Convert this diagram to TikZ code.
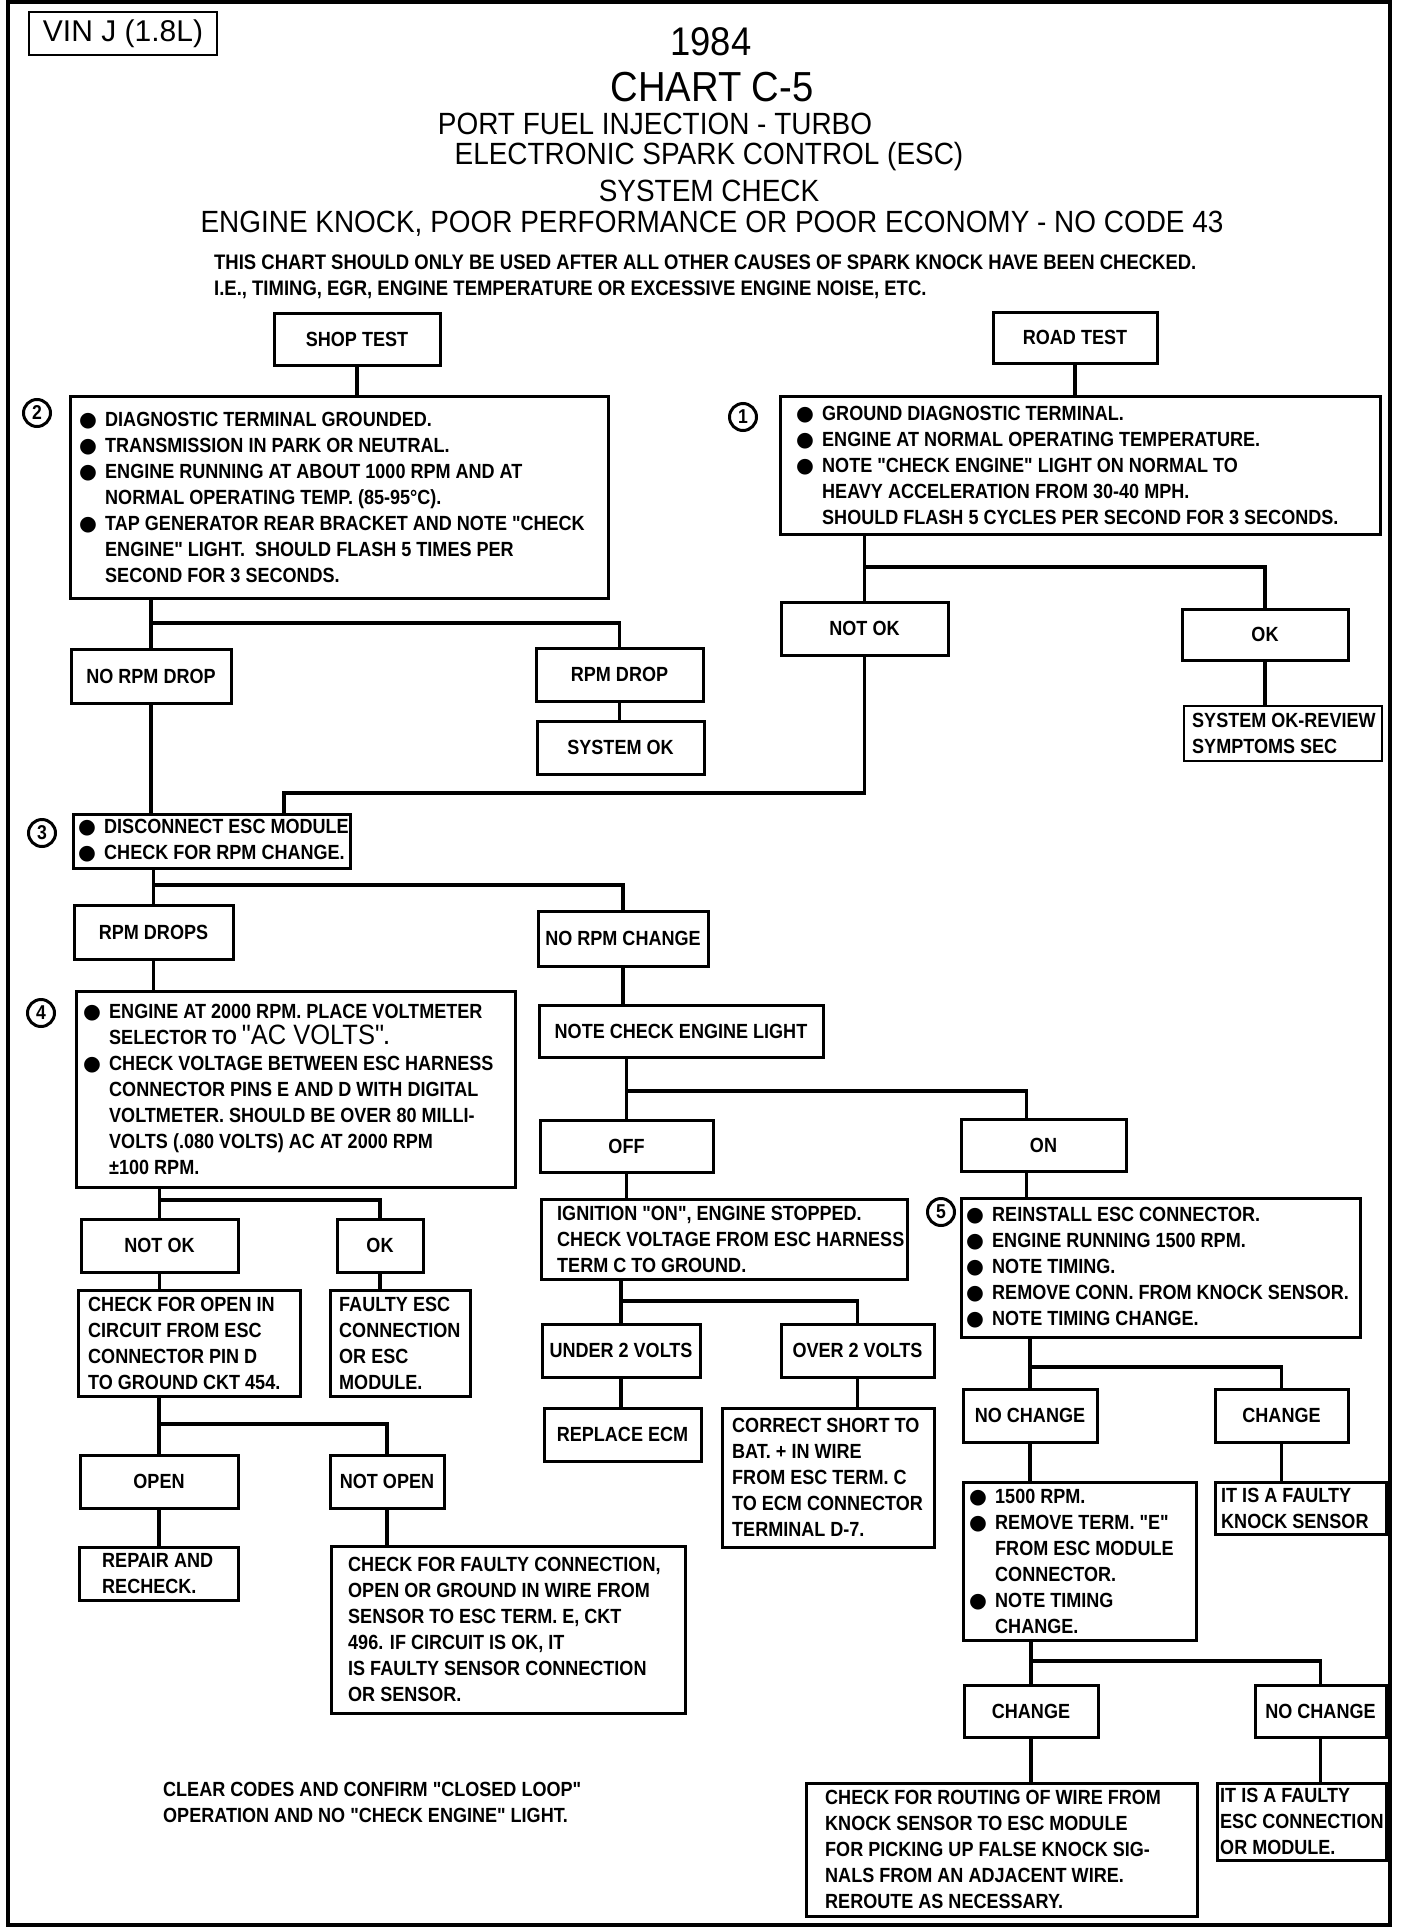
\documentclass[tikz,border=0pt]{standalone}
\usepackage{fontspec}
\setmainfont{Liberation Sans}
\newfontfamily\titlefont{Liberation Sans}[FakeStretch=0.91]
\newfontfamily\boxfont{Liberation Sans}[FakeStretch=0.88]
\newfontfamily\symfont{DejaVu Sans}
\newcommand{\boxsize}{\fontsize{20.5}{26}\selectfont}
\newcommand{\bl}{\makebox[26pt][l]{\symfont ●}}
\newcommand{\ind}{\hspace*{26pt}}
\begin{document}
\begin{tikzpicture}[x=1pt, y=-1pt,
    blk/.style={draw, line width=3pt, outer sep=0pt, inner sep=0pt, anchor=north west, font=\boxfont\bfseries\boxsize},
    txt/.style={anchor=west, align=left, inner sep=0pt, font=\boxfont\bfseries\boxsize},
    num/.style={circle, draw, line width=3pt, minimum size=27pt, inner sep=0pt, font=\boxfont\bfseries\fontsize{20}{20}\selectfont},
    head/.style={inner sep=0pt, font=\titlefont\fontsize{30.7}{34}\selectfont},
    wire/.style={line width=3.2pt}]
    \useasboundingbox (0,0) rectangle (1408,1930);
    \draw[line width=4.5pt] (8,2) rectangle (1390,1925);
    \node[draw, line width=2pt, minimum width=188pt, minimum height=43pt, anchor=north west, font=\fontsize{30}{30}\selectfont] (vin) at (28,11) {VIN J (1.8L)};
    \node[head, font=\titlefont\fontsize{40}{40}\selectfont] (year) at (711,42) {1984};
    \node[head, font=\titlefont\fontsize{42}{42}\selectfont] (chart) at (712,87) {CHART C-5};
    \node[head] (title1) at (655,124) {PORT FUEL INJECTION - TURBO};
    \node[head] (title2) at (709,157) {ELECTRONIC SPARK CONTROL (ESC)};
    \node[head] (title3) at (709,191) {SYSTEM CHECK};
    \node[head] (title4) at (712,224) {ENGINE KNOCK, POOR PERFORMANCE OR POOR ECONOMY - NO CODE 43};
    \node[txt, font=\boxfont\bfseries\fontsize{21}{26}\selectfont] (hint) at (214,277) {THIS CHART SHOULD ONLY BE USED AFTER ALL OTHER CAUSES OF SPARK KNOCK HAVE BEEN CHECKED.\\ I.E., TIMING, EGR, ENGINE TEMPERATURE OR EXCESSIVE ENGINE NOISE, ETC.};

    \node[blk, minimum width=166pt, minimum height=52pt] (shop) at (274,313) {SHOP TEST};
    \node[blk, minimum width=164pt, minimum height=51pt] (road) at (993,312) {ROAD TEST};
    \node[blk, minimum width=538pt, minimum height=202pt, label={[txt, xshift=9pt]west:{\bl DIAGNOSTIC TERMINAL GROUNDED.\\ \bl TRANSMISSION IN PARK OR NEUTRAL.\\ \bl ENGINE RUNNING AT ABOUT 1000 RPM AND AT\\ \ind NORMAL OPERATING TEMP. (85-95°C).\\ \bl TAP GENERATOR REAR BRACKET AND NOTE "CHECK\\ \ind ENGINE" LIGHT.\ \ SHOULD FLASH 5 TIMES PER\\ \ind SECOND FOR 3 SECONDS.}}] (shopchk) at (70,396) {};
    \node[blk, minimum width=600pt, minimum height=138pt, label={[txt, xshift=16pt]west:{\bl GROUND DIAGNOSTIC TERMINAL.\\ \bl ENGINE AT NORMAL OPERATING TEMPERATURE.\\ \bl NOTE "CHECK ENGINE" LIGHT ON NORMAL TO\\ \ind HEAVY ACCELERATION FROM 30-40 MPH.\\ \ind SHOULD FLASH 5 CYCLES PER SECOND FOR 3 SECONDS.}}] (roadchk) at (780,396) {};
    \node[num] (n2) at (37,413) {2};
    \node[num] (n1) at (743,417) {1};
    \node[blk, minimum width=167pt, minimum height=53pt] (notok1) at (781,602) {NOT OK};
    \node[blk, minimum width=166pt, minimum height=51pt] (ok1) at (1182,609) {OK};
    \node[blk, minimum width=198pt, minimum height=55pt, line width=2.5pt, label={[txt, xshift=8pt]west:{SYSTEM OK-REVIEW\\ SYMPTOMS SEC}}] (sysrev) at (1184,706) {};
    \node[blk, minimum width=160pt, minimum height=54pt] (nordrop) at (71,649) {NO RPM DROP};
    \node[blk, minimum width=167pt, minimum height=53pt] (rpmdrop) at (536,648) {RPM DROP};
    \node[blk, minimum width=167pt, minimum height=53pt] (sysok) at (537,721) {SYSTEM OK};

    \node[blk, minimum width=277pt, minimum height=54pt, label={[txt, xshift=5pt]west:{\bl DISCONNECT ESC MODULE\\ \bl CHECK FOR RPM CHANGE.}}] (box3) at (73,814) {};
    \node[num] (n3) at (42,833) {3};
    \node[blk, minimum width=159pt, minimum height=54pt] (rpmdrops) at (74,905) {RPM DROPS};
    \node[blk, minimum width=170pt, minimum height=55pt] (norpmch) at (538,911) {NO RPM CHANGE};

    \node[blk, minimum width=439pt, minimum height=196pt, label={[txt, xshift=7pt]west:{\bl ENGINE AT 2000 RPM. PLACE VOLTMETER\\ \ind SELECTOR TO {\titlefont\mdseries\fontsize{28}{26}\selectfont "AC VOLTS"}.\\ \bl CHECK VOLTAGE BETWEEN ESC HARNESS\\ \ind CONNECTOR PINS E AND D WITH DIGITAL\\ \ind VOLTMETER. SHOULD BE OVER 80 MILLI-\\ \ind VOLTS (.080 VOLTS) AC AT 2000 RPM\\ \ind ±100 RPM.}}] (box4) at (76,991) {};
    \node[num] (n4) at (41,1013) {4};
    \node[blk, minimum width=157pt, minimum height=53pt] (notok4) at (81,1219) {NOT OK};
    \node[blk, minimum width=86pt, minimum height=53pt] (ok4) at (337,1219) {OK};
    \node[blk, minimum width=222pt, minimum height=106pt, label={[txt, xshift=10pt]west:{CHECK FOR OPEN IN\\ CIRCUIT FROM ESC\\ CONNECTOR PIN D\\ TO GROUND CKT 454.}}] (openchk) at (78,1290) {};
    \node[blk, minimum width=140pt, minimum height=106pt, label={[txt, xshift=9pt]west:{FAULTY ESC\\ CONNECTION\\ OR ESC\\ MODULE.}}] (faulty) at (330,1290) {};
    \node[blk, minimum width=158pt, minimum height=53pt] (open) at (80,1455) {OPEN};
    \node[blk, minimum width=114pt, minimum height=53pt] (notopen) at (330,1455) {NOT OPEN};
    \node[blk, minimum width=159pt, minimum height=53pt, label={[txt, xshift=23pt]west:{REPAIR AND\\ RECHECK.}}] (repair) at (79,1547) {};
    \node[blk, minimum width=354pt, minimum height=167pt, label={[txt, xshift=17pt]west:{CHECK FOR FAULTY CONNECTION,\\ OPEN OR GROUND IN WIRE FROM\\ SENSOR TO ESC TERM. E, CKT\\ 496. IF CIRCUIT IS OK, IT\\ IS FAULTY SENSOR CONNECTION\\ OR SENSOR.}}] (faultycon) at (331,1546) {};
    \node[txt] (clear) at (163,1802) {CLEAR CODES AND CONFIRM "CLOSED LOOP"\\ OPERATION AND NO "CHECK ENGINE" LIGHT.};

    \node[blk, minimum width=284pt, minimum height=52pt] (note) at (539,1005) {NOTE CHECK ENGINE LIGHT};
    \node[blk, minimum width=173pt, minimum height=52pt] (off) at (540,1120) {OFF};
    \node[blk, minimum width=165pt, minimum height=52pt] (on) at (961,1119) {ON};
    \node[blk, minimum width=366pt, minimum height=80pt, label={[txt, xshift=16pt]west:{IGNITION "ON", ENGINE STOPPED.\\ CHECK VOLTAGE FROM ESC HARNESS\\ TERM C TO GROUND.}}] (ign) at (541,1199) {};
    \node[blk, minimum width=158pt, minimum height=53pt] (under) at (542,1324) {UNDER 2 VOLTS};
    \node[blk, minimum width=153pt, minimum height=53pt] (over) at (781,1324) {OVER 2 VOLTS};
    \node[blk, minimum width=157pt, minimum height=53pt] (replace) at (544,1408) {REPLACE ECM};
    \node[blk, minimum width=212pt, minimum height=139pt, label={[txt, xshift=10pt]west:{CORRECT SHORT TO\\ BAT. + IN WIRE\\ FROM ESC TERM. C\\ TO ECM CONNECTOR\\ TERMINAL D-7.}}] (correct) at (722,1408) {};

    \node[blk, minimum width=399pt, minimum height=139pt, label={[txt, xshift=5pt]west:{\bl REINSTALL ESC CONNECTOR.\\ \bl ENGINE RUNNING 1500 RPM.\\ \bl NOTE TIMING.\\ \bl REMOVE CONN. FROM KNOCK SENSOR.\\ \bl NOTE TIMING CHANGE.}}] (box5) at (961,1198) {};
    \node[num] (n5) at (941,1212) {5};
    \node[blk, minimum width=134pt, minimum height=53pt] (nochg1) at (963,1389) {NO CHANGE};
    \node[blk, minimum width=133pt, minimum height=53pt] (chg1) at (1215,1389) {CHANGE};
    \node[blk, minimum width=171pt, minimum height=52pt, label={[txt, xshift=6pt]west:{IT IS A FAULTY\\ KNOCK SENSOR}}] (knock) at (1215,1482) {};
    \node[blk, minimum width=233pt, minimum height=158pt, label={[txt, xshift=6pt]west:{\bl 1500 RPM.\\ \bl REMOVE TERM. "E"\\ \ind FROM ESC MODULE\\ \ind CONNECTOR.\\ \bl NOTE TIMING\\ \ind CHANGE.}}] (rpm1500) at (963,1482) {};
    \node[blk, minimum width=134pt, minimum height=52pt] (chg2) at (964,1685) {CHANGE};
    \node[blk, minimum width=131pt, minimum height=52pt] (nochg2) at (1255,1685) {NO CHANGE};
    \node[blk, minimum width=391pt, minimum height=133pt, label={[txt, xshift=19pt]west:{CHECK FOR ROUTING OF WIRE FROM\\ KNOCK SENSOR TO ESC MODULE\\ FOR PICKING UP FALSE KNOCK SIG-\\ NALS FROM AN ADJACENT WIRE.\\ REROUTE AS NECESSARY.}}] (routing) at (806,1783) {};
    \node[blk, minimum width=169pt, minimum height=77pt, label={[txt, xshift=3pt]west:{IT IS A FAULTY\\ ESC CONNECTION\\ OR MODULE.}}] (escmod) at (1217,1783) {};

    \coordinate (br1) at (0,567);
    \coordinate (br2) at (0,623);
    \coordinate (j3) at (284,793);
    \coordinate (br3) at (0,885);
    \coordinate (br4) at (0,1200);
    \coordinate (br5) at (0,1424);
    \coordinate (brn) at (0,1091);
    \coordinate (bri) at (0,1301);
    \coordinate (brc) at (0,1367);
    \coordinate (brr) at (0,1661);

    \draw[wire] (shop.south) -- (shop.south |- shopchk.north);
    \draw[wire] (road.south) -- (road.south |- roadchk.north);
    \draw[wire] (nordrop.north |- shopchk.south) -- (nordrop.north);
    \draw[wire] (nordrop.north |- br2) -| (rpmdrop.north);
    \draw[wire] (rpmdrop.south) -- (rpmdrop.south |- sysok.north);
    \draw[wire] (notok1.north |- roadchk.south) -- (notok1.north);
    \draw[wire] (notok1.north |- br1) -| (ok1.north);
    \draw[wire] (ok1.south) -- (ok1.south |- sysrev.north);
    \draw[wire] (notok1.south) |- (j3) -- (j3 |- box3.north);
    \draw[wire] (nordrop.south) -- (nordrop.south |- box3.north);
    \draw[wire] (rpmdrops.north |- box3.south) -- (rpmdrops.north);
    \draw[wire] (rpmdrops.north |- br3) -| (norpmch.north);
    \draw[wire] (rpmdrops.south) -- (rpmdrops.south |- box4.north);
    \draw[wire] (notok4.north |- box4.south) -- (notok4.north);
    \draw[wire] (notok4.north |- br4) -| (ok4.north);
    \draw[wire] (notok4.south) -- (notok4.south |- openchk.north);
    \draw[wire] (ok4.south) -- (ok4.south |- faulty.north);
    \draw[wire] (open.north |- openchk.south) -- (open.north);
    \draw[wire] (open.north |- br5) -| (notopen.north);
    \draw[wire] (open.south) -- (open.south |- repair.north);
    \draw[wire] (notopen.south) -- (notopen.south |- faultycon.north);
    \draw[wire] (norpmch.south) -- (norpmch.south |- note.north);
    \draw[wire] (off.north |- note.south) -- (off.north);
    \draw[wire] (off.north |- brn) -| ([xshift=-17pt]on.north);
    \draw[wire] ([xshift=-17pt]on.south) -- ([xshift=-17pt]on.south |- box5.north);
    \draw[wire] (off.south) -- (off.south |- ign.north);
    \draw[wire] (under.north |- ign.south) -- (under.north);
    \draw[wire] (under.north |- bri) -| (over.north);
    \draw[wire] (under.south) -- (under.south |- replace.north);
    \draw[wire] (over.south) -- (over.south |- correct.north);
    \draw[wire] (nochg1.north |- box5.south) -- (nochg1.north);
    \draw[wire] (nochg1.north |- brc) -| (chg1.north);
    \draw[wire] (chg1.south) -- (chg1.south |- knock.north);
    \draw[wire] (nochg1.south) -- (nochg1.south |- rpm1500.north);
    \draw[wire] (chg2.north |- rpm1500.south) -- (chg2.north);
    \draw[wire] (chg2.north |- brr) -| (nochg2.north);
    \draw[wire] (chg2.south) -- (chg2.south |- routing.north);
    \draw[wire] (nochg2.south) -- (nochg2.south |- escmod.north);
\end{tikzpicture}
\end{document}
